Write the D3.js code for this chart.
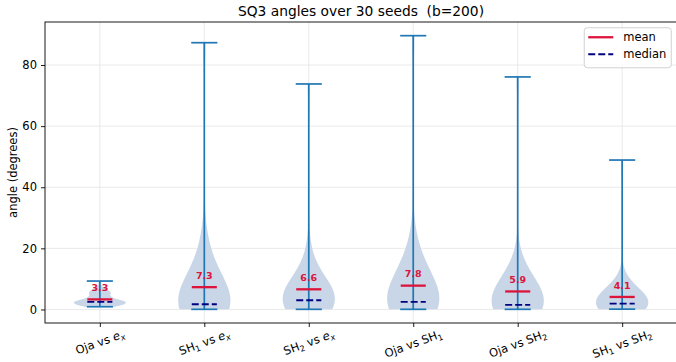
<!DOCTYPE html>
<html>
<head>
<meta charset="utf-8">
<script src="https://cdn.jsdelivr.net/npm/d3@7"></script>
<style>
  html, body { margin: 0; padding: 0; background: #ffffff; }
  svg { display: block; font-family: "DejaVu Sans", sans-serif; }
  text { white-space: pre; }
</style>
</head>
<body>
<svg id="chart" width="676" height="362"></svg>
<script>
// Comparisons along the x axis (a character after "_" is a subscript)
const categories = ["Oja vs e_x", "SH_1 vs e_x", "SH_2 vs e_x", "Oja vs SH_1", "Oja vs SH_2", "SH_1 vs SH_2"];

// Angle (degrees) between learned and reference directions, one value per seed (30 seeds)
const ojaVsEx = [0.9, 1.0, 1.2, 1.4, 1.6, 1.8, 1.9, 2.0, 2.1, 2.2, 2.3, 2.3, 2.4, 2.4, 2.5,
                 2.5, 2.6, 2.7, 2.9, 3.1, 3.5, 4.6, 5.0, 5.3, 5.5, 5.7, 5.9, 6.1, 6.3, 9.3];
const sh1VsEx = [0.05, 0.1, 0.2, 0.3, 0.4, 0.5, 0.6, 0.8, 0.9, 1.0, 1.1, 1.3, 1.4, 1.5, 1.6,
                 1.8, 2.2, 2.8, 3.5, 4.3, 5.2, 6.2, 7.4, 8.8, 10.5, 12.5, 15.0, 18.0, 21.75, 87.3];
const sh2VsEx = [0.05, 0.3, 0.6, 0.9, 1.1, 1.3, 1.5, 1.7, 1.9, 2.1, 2.3, 2.5, 2.6, 2.8, 2.9,
                 3.1, 3.3, 3.6, 3.9, 4.3, 4.8, 5.4, 6.0, 6.8, 7.8, 9.0, 10.5, 13.0, 18.15, 73.8];
const ojaVsSh1 = [0.05, 0.2, 0.35, 0.5, 0.7, 0.9, 1.0, 1.2, 1.4, 1.6, 1.8, 1.9, 2.1, 2.2, 2.4,
                  2.6, 3.0, 3.5, 4.2, 5.0, 6.0, 7.0, 8.3, 9.5, 11.0, 13.0, 15.5, 18.0, 19.5, 89.6];
const ojaVsSh2 = [0.05, 0.1, 0.2, 0.3, 0.4, 0.5, 0.6, 0.7, 0.8, 0.9, 1.0, 1.1, 1.2, 1.3, 1.4,
                  1.6, 2.0, 2.5, 3.2, 4.0, 5.0, 6.0, 7.0, 7.55, 8.0, 9.0, 10.0, 11.5, 13.0, 76.1];
const sh1VsSh2 = [0.1, 0.2, 0.35, 0.5, 0.6, 0.75, 0.9, 1.0, 1.1, 1.25, 1.4, 1.5, 1.6, 1.7, 1.8,
                  2.0, 2.2, 2.4, 2.7, 3.0, 3.3, 3.6, 4.0, 4.4, 4.9, 5.5, 6.2, 7.0, 8.15, 48.9];

const yTicks = [0, 20, 40, 60, 80];
const titleText = "SQ3 angles over 30 seeds  (b=200)";
const yLabel = "angle (degrees)";
const legendLabels = ["mean", "median"];
</script>
<script>
const series = [ojaVsEx, sh1VsEx, sh2VsEx, ojaVsSh1, ojaVsSh2, sh1VsSh2];
const positions = categories.map((_, i) => i + 1);

const svg = d3.select("#chart");
const plot = { left: 45, right: 677, top: 22, bottom: 323 };

const C0 = "#1f77b4";
const bodyFill = "#c8d6e8";
const meanColor = "#dc143c";
const medianColor = "#000080";
const fs = 11.5;

// Kernel density estimate (Gaussian kernel, Scott's rule), evaluated between min and max
function violinStats(vals) {
  const n = vals.length;
  const bw = Math.pow(n, -1 / 5) * d3.deviation(vals);
  const lo = d3.min(vals), hi = d3.max(vals);
  const coords = d3.range(100).map(i => lo + (hi - lo) * i / 99);
  const dens = coords.map(c => d3.sum(vals, v => Math.exp(-0.5 * ((c - v) / bw) ** 2)));
  const dmax = d3.max(dens);
  return {
    lo, hi,
    mean: d3.mean(vals),
    median: d3.median(vals),
    profile: coords.map((c, i) => ({ c, w: 0.25 * dens[i] / dmax }))
  };
}
const stats = series.map(violinStats);

// Scales with 5% padding around the data limits
const xLo = d3.min(positions) - 0.25, xHi = d3.max(positions) + 0.25;
const xPad = (xHi - xLo) * 0.05;
const x = d3.scaleLinear().domain([xLo - xPad, xHi + xPad]).range([plot.left, plot.right]);
const yLo = d3.min(stats, s => s.lo), yHi = d3.max(stats, s => s.hi);
const yPad = (yHi - yLo) * 0.05;
const y = d3.scaleLinear().domain([yLo - yPad, yHi + yPad]).range([plot.bottom, plot.top]);

// Grid
const grid = svg.append("g").attr("stroke", "#e6e6e6").attr("stroke-width", 0.9);
yTicks.forEach(t => grid.append("line")
  .attr("x1", plot.left).attr("x2", plot.right).attr("y1", y(t)).attr("y2", y(t)));
positions.forEach(p => grid.append("line")
  .attr("x1", x(p)).attr("x2", x(p)).attr("y1", plot.top).attr("y2", plot.bottom));

// Violin bodies
const area = d3.area().curve(d3.curveLinear);
stats.forEach((s, i) => {
  const p = positions[i];
  area.y(d => y(d.c)).x0(d => x(p - d.w)).x1(d => x(p + d.w));
  svg.append("path").attr("d", area(s.profile)).attr("fill", bodyFill).attr("stroke", "none");
});

// Extrema bars and caps
const lines = svg.append("g").attr("stroke", C0).attr("stroke-width", 1.7).attr("fill", "none");
stats.forEach((s, i) => {
  const p = positions[i];
  lines.append("line").attr("x1", x(p)).attr("x2", x(p)).attr("y1", y(s.lo)).attr("y2", y(s.hi));
  [s.lo, s.hi].forEach(v => lines.append("line")
    .attr("x1", x(p - 0.125)).attr("x2", x(p + 0.125)).attr("y1", y(v)).attr("y2", y(v)));
});

// Mean and median markers with mean labels
stats.forEach((s, i) => {
  const p = positions[i];
  svg.append("line").attr("x1", x(p - 0.12)).attr("x2", x(p + 0.12))
    .attr("y1", y(s.median)).attr("y2", y(s.median))
    .attr("stroke", medianColor).attr("stroke-width", 1.9).attr("stroke-dasharray", "7,3");
  svg.append("line").attr("x1", x(p - 0.12)).attr("x2", x(p + 0.12))
    .attr("y1", y(s.mean)).attr("y2", y(s.mean))
    .attr("stroke", meanColor).attr("stroke-width", 2.3);
  svg.append("text").attr("x", x(p)).attr("y", y(s.mean + 2) - 2.2)
    .attr("text-anchor", "middle").attr("font-size", 9.5).attr("font-weight", "bold")
    .attr("fill", meanColor).text(s.mean.toFixed(1));
});

// Axes frame
svg.append("rect").attr("x", plot.left).attr("y", plot.top)
  .attr("width", plot.right - plot.left).attr("height", plot.bottom - plot.top)
  .attr("fill", "none").attr("stroke", "#000").attr("stroke-width", 0.9);

// Y axis
const yAxis = d3.axisLeft(y).tickValues(yTicks).tickSize(4).tickPadding(4).tickFormat(d3.format("d"));
const gy = svg.append("g").attr("transform", `translate(${plot.left},0)`).call(yAxis);
gy.select(".domain").remove();
gy.selectAll(".tick line").attr("stroke", "#000").attr("stroke-width", 0.9);
gy.selectAll(".tick text").attr("font-size", fs).attr("font-family", "DejaVu Sans").attr("fill", "#000");

// X axis ticks
const xAxis = d3.axisBottom(x).tickValues(positions).tickSize(4).tickFormat("");
const gx = svg.append("g").attr("transform", `translate(0,${plot.bottom})`).call(xAxis);
gx.select(".domain").remove();
gx.selectAll(".tick line").attr("stroke", "#000").attr("stroke-width", 0.9);

// Rotated category labels; "a_b" renders b as a subscript of a
function addLabel(g, str) {
  const t = g.append("text").attr("font-size", fs).attr("fill", "#000");
  const parts = str.split(/(\w_\w)/).filter(s => s.length);
  let shifted = false;
  parts.forEach(part => {
    const m = part.match(/^(\w)_(\w)$/);
    if (m) {
      const span = t.append("tspan").text(m[1]);
      if (shifted) { span.attr("dy", -fs * 0.2); shifted = false; }
      if (/[a-z]/.test(m[1])) span.attr("font-style", "italic");
      t.append("tspan").attr("font-size", fs * 0.7).attr("dy", fs * 0.2)
        .attr("font-style", /[a-z]/.test(m[2]) ? "italic" : null).text(m[2]);
      shifted = true;
    } else {
      const span = t.append("tspan").text(part);
      if (shifted) { span.attr("dy", -fs * 0.2); shifted = false; }
    }
  });
  return t;
}
const angle = 20 * Math.PI / 180;
categories.forEach((c, i) => {
  const g = svg.append("g");
  const t = addLabel(g, c);
  const w = t.node().getComputedTextLength();
  const h = fs * 0.95;
  const Hrot = w * Math.sin(angle) + h * Math.cos(angle);
  const cx = x(positions[i]);
  const cy = plot.bottom + 5 + Hrot / 2;
  t.attr("x", -w / 2).attr("y", fs * 0.36);
  g.attr("transform", `translate(${cx},${cy}) rotate(-20)`);
});

// Y label
svg.append("text").attr("transform", `translate(13,${(plot.top + plot.bottom) / 2}) rotate(-90)`)
  .attr("text-anchor", "middle").attr("dominant-baseline", "central")
  .attr("font-size", fs).attr("fill", "#000").text(yLabel);

// Title
svg.append("text").attr("x", (plot.left + plot.right) / 2).attr("y", 16)
  .attr("text-anchor", "middle").attr("font-size", 13.8).attr("fill", "#000").text(titleText);

// Legend
const lg = svg.append("g");
const lw = 87, lh = 40;
const lx = plot.right - 5.75 - lw, ly = plot.top + 5.75;
lg.append("rect").attr("x", lx).attr("y", ly).attr("width", lw).attr("height", lh)
  .attr("rx", 3).attr("fill", "#fff").attr("fill-opacity", 0.8)
  .attr("stroke", "#cccccc").attr("stroke-width", 0.9);
legendLabels.forEach((lab, i) => {
  const yy = ly + 9.5 + i * 17;
  lg.append("line").attr("x1", lx + 4).attr("x2", lx + 29).attr("y1", yy).attr("y2", yy)
    .attr("stroke", i === 0 ? meanColor : medianColor)
    .attr("stroke-width", i === 0 ? 2.3 : 1.9)
    .attr("stroke-dasharray", i === 0 ? null : "7,3");
  lg.append("text").attr("x", lx + 39).attr("y", yy).attr("dominant-baseline", "central")
    .attr("font-size", fs).attr("fill", "#000").text(lab);
});
</script>
</body>
</html>
